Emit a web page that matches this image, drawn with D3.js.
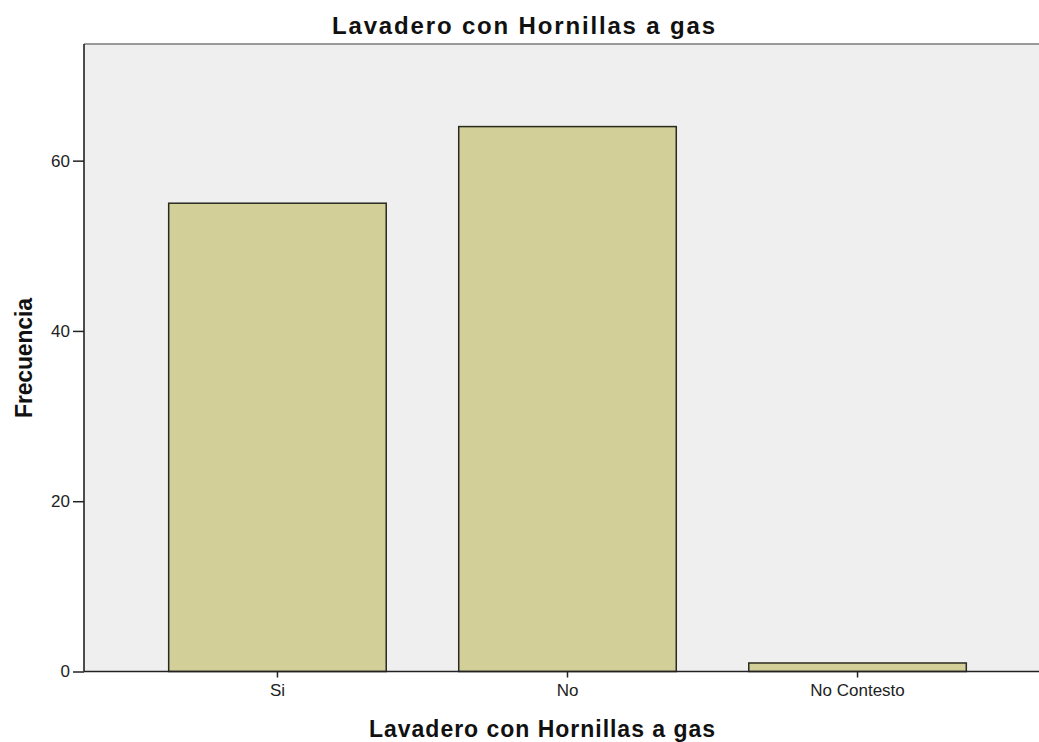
<!DOCTYPE html>
<html>
<head>
<meta charset="utf-8">
<script src="https://cdn.jsdelivr.net/npm/d3@7"></script>
<style>
  html, body { margin: 0; padding: 0; background: #ffffff; }
  svg { display: block; }
  text { font-family: "Liberation Sans", Arial, sans-serif; }
</style>
</head>
<body>
<svg id="chart" width="1039" height="742"></svg>
<script>
// Frequency counts per answer
const categories = ["Si", "No", "No Contesto"];
const frequencies = [55, 64, 1];
const yTicks = [0, 20, 40, 60];
const chartTitle = "Lavadero con Hornillas a gas";
const xTitle = "Lavadero con Hornillas a gas";
const yTitle = "Frecuencia";

const svg = d3.select("#chart");
const margin = { left: 84, top: 44, bottom: 671.5, right: 1051 };

const x = d3.scaleBand()
  .domain(categories)
  .range([margin.left, margin.right])
  .paddingInner(0.25)
  .paddingOuter(0.292);

const y = d3.scaleLinear()
  .domain([0, 73.7])
  .range([margin.bottom, margin.top]);

// plot background
svg.append("rect")
  .attr("x", margin.left)
  .attr("y", margin.top)
  .attr("width", margin.right - margin.left)
  .attr("height", margin.bottom - margin.top)
  .attr("fill", "#efefef");

// top frame line
svg.append("line")
  .attr("x1", margin.left).attr("x2", margin.right)
  .attr("y1", margin.top).attr("y2", margin.top)
  .attr("stroke", "#7a7a7a").attr("stroke-width", 1.6);

// bars
svg.append("g").selectAll("rect")
  .data(categories.map((c, i) => ({ c, v: frequencies[i] })))
  .join("rect")
  .attr("x", d => x(d.c))
  .attr("y", d => y(d.v))
  .attr("width", x.bandwidth())
  .attr("height", d => y(0) - y(d.v))
  .attr("fill", "#d3cf99")
  .attr("stroke", "#2a2a20")
  .attr("stroke-width", 1.5);

// y axis
const yAxis = svg.append("g")
  .attr("transform", `translate(${margin.left},0)`)
  .call(d3.axisLeft(y).tickValues(yTicks).tickSize(11).tickPadding(3).tickSizeOuter(0));
yAxis.select(".domain").remove();
yAxis.append("line")
  .attr("x1", 0).attr("x2", 0)
  .attr("y1", margin.top).attr("y2", margin.bottom)
  .attr("stroke", "#222").attr("stroke-width", 1.6);
yAxis.selectAll(".tick line").attr("stroke", "#222").attr("stroke-width", 1.5);
yAxis.selectAll(".tick text")
  .attr("fill", "#222")
  .style("font-size", "17px")
  .style("font-family", "'Liberation Sans', Arial, sans-serif");

// x axis
const xAxis = svg.append("g")
  .attr("transform", `translate(0,${margin.bottom})`)
  .call(d3.axisBottom(x).tickSize(6).tickPadding(6).tickSizeOuter(0));
xAxis.select(".domain").remove();
xAxis.append("line")
  .attr("x1", margin.left).attr("x2", margin.right)
  .attr("y1", 0).attr("y2", 0)
  .attr("stroke", "#222").attr("stroke-width", 1.6);
xAxis.selectAll(".tick line").attr("stroke", "#222").attr("stroke-width", 1.5);
xAxis.selectAll(".tick text")
  .attr("fill", "#222")
  .style("font-size", "17px")
  .style("font-family", "'Liberation Sans', Arial, sans-serif");

// titles
svg.append("text")
  .attr("x", 523.5).attr("y", 33.5)
  .attr("text-anchor", "middle")
  .attr("textLength", 383).attr("lengthAdjust", "spacing")
  .style("font-size", "24px").style("font-weight", "bold")
  .attr("fill", "#111")
  .text(chartTitle);

svg.append("text")
  .attr("x", 542).attr("y", 737)
  .attr("text-anchor", "middle")
  .attr("textLength", 346).attr("lengthAdjust", "spacing")
  .style("font-size", "23px").style("font-weight", "bold")
  .attr("fill", "#111")
  .text(xTitle);

svg.append("text")
  .attr("transform", "translate(32,358) rotate(-90)")
  .attr("text-anchor", "middle")
  .attr("textLength", 120).attr("lengthAdjust", "spacing")
  .style("font-size", "23px").style("font-weight", "bold")
  .attr("fill", "#111")
  .text(yTitle);
</script>
</body>
</html>
